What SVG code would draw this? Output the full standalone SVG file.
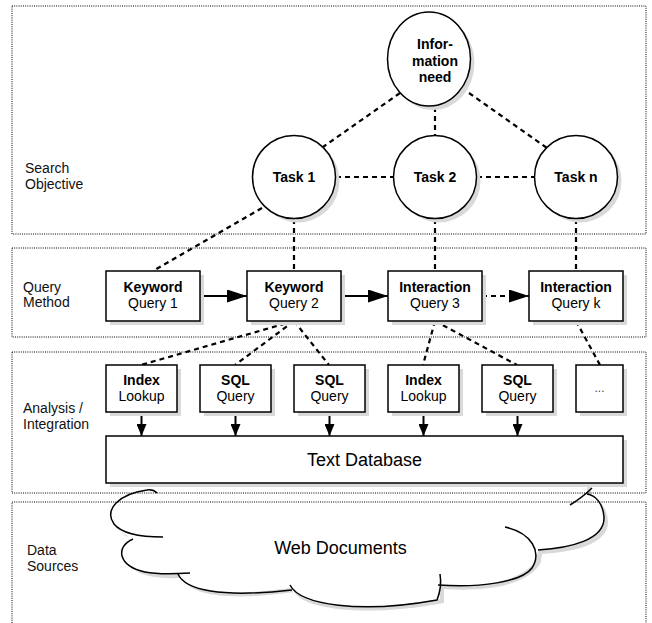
<svg xmlns="http://www.w3.org/2000/svg" width="652" height="623" viewBox="0 0 652 623">
<style>
  .panel { fill: none; stroke: #000; stroke-width: 1; stroke-dasharray: 1 1.2; }
  .lab { font-family: "Liberation Sans", Arial, sans-serif; font-size: 14px; fill: #111; }
  .nt { font-family: "Liberation Sans", Arial, sans-serif; font-size: 14px; fill: #000; text-anchor: middle; }
  .b { font-weight: bold; }
  .node { fill: #fff; stroke: #000; stroke-width: 1.5; }
  .shadow { fill: #d9d9d9; stroke: none; }
  .dash { fill: none; stroke: #000; stroke-width: 2.2; stroke-dasharray: 5 4; }
  .solid { fill: none; stroke: #000; stroke-width: 2; }
  .thin { fill: none; stroke: #000; stroke-width: 1.5; }
</style>
<defs>
  <marker id="bigArrow" markerUnits="userSpaceOnUse" markerWidth="20" markerHeight="13" refX="20" refY="6.5" orient="auto">
    <path d="M0,0 L20,6.5 L0,13 Z" fill="#000"/>
  </marker>
  <marker id="smallArrow" markerUnits="userSpaceOnUse" markerWidth="12" markerHeight="10" refX="12" refY="5" orient="auto">
    <path d="M0,0 L12,5 L0,10 Z" fill="#000"/>
  </marker>
</defs>

<g id="side-labels">
  <text class="lab" x="25" y="173">Search</text>
  <text class="lab" x="25" y="189">Objective</text>
  <text class="lab" x="23" y="292">Query</text>
  <text class="lab" x="23" y="307">Method</text>
  <text class="lab" x="23" y="413">Analysis /</text>
  <text class="lab" x="23" y="429">Integration</text>
  <text class="lab" x="27" y="555">Data</text>
  <text class="lab" x="27" y="571">Sources</text>
</g>

<g id="connectors">
  <line class="dash" x1="400" y1="93" x2="323" y2="147"/>
  <line class="dash" x1="435" y1="107" x2="435" y2="135"/>
  <line class="dash" x1="469" y1="93" x2="547" y2="148"/>
  <line class="dash" x1="336" y1="177" x2="393" y2="177"/>
  <line class="dash" x1="477" y1="177" x2="534" y2="177"/>
  <line class="dash" x1="262" y1="208" x2="153" y2="271"/>
  <line class="dash" x1="294" y1="219" x2="294" y2="271"/>
  <line class="dash" x1="435" y1="219" x2="435" y2="271"/>
  <line class="dash" x1="576" y1="219" x2="576" y2="271"/>
  <line class="dash" x1="294" y1="321" x2="141" y2="365"/>
  <line class="dash" x1="294" y1="321" x2="235" y2="365"/>
  <line class="dash" x1="294" y1="321" x2="329" y2="365"/>
  <line class="dash" x1="435" y1="321" x2="423" y2="365"/>
  <line class="dash" x1="435" y1="321" x2="517" y2="365"/>
  <line class="dash" x1="576" y1="321" x2="600" y2="365"/>
  <line class="solid" x1="200" y1="296" x2="247" y2="296" marker-end="url(#bigArrow)"/>
  <line class="solid" x1="341" y1="296" x2="388" y2="296" marker-end="url(#bigArrow)"/>
  <line class="dash" x1="482" y1="296" x2="529" y2="296" marker-end="url(#bigArrow)"/>
  <line class="solid" x1="141.5" y1="412" x2="141.5" y2="436" marker-end="url(#smallArrow)"/>
  <line class="solid" x1="235.5" y1="412" x2="235.5" y2="436" marker-end="url(#smallArrow)"/>
  <line class="solid" x1="329.5" y1="412" x2="329.5" y2="436" marker-end="url(#smallArrow)"/>
  <line class="solid" x1="423.5" y1="412" x2="423.5" y2="436" marker-end="url(#smallArrow)"/>
  <line class="solid" x1="517.5" y1="412" x2="517.5" y2="436" marker-end="url(#smallArrow)"/>
</g>

<g id="info-need">
  <ellipse class="shadow" cx="433" cy="63" rx="41.5" ry="47"/>
  <ellipse class="node" cx="429" cy="59" rx="41.5" ry="47"/>
  <text class="nt b" x="435" y="48.5">Infor-</text>
  <text class="nt b" x="435" y="65.5">mation</text>
  <text class="nt b" x="435" y="82">need</text>
</g>
<g id="task1">
  <circle class="shadow" cx="298" cy="181" r="41.5"/>
  <circle class="node" cx="294" cy="177" r="41.5"/>
  <text class="nt b" x="294" y="182">Task 1</text>
</g>
<g id="task2">
  <circle class="shadow" cx="439" cy="181" r="41.5"/>
  <circle class="node" cx="435" cy="177" r="41.5"/>
  <text class="nt b" x="435" y="182">Task 2</text>
</g>
<g id="taskn">
  <circle class="shadow" cx="580" cy="181" r="41.5"/>
  <circle class="node" cx="576" cy="177" r="41.5"/>
  <text class="nt b" x="576" y="182">Task n</text>
</g>

<g id="q1">
  <rect class="shadow" x="110" y="275" width="94" height="50"/>
  <rect class="node" x="106" y="271" width="94" height="50"/>
  <text class="nt b" x="153" y="292">Keyword</text>
  <text class="nt" x="153" y="308">Query 1</text>
</g>
<g id="q2">
  <rect class="shadow" x="251" y="275" width="94" height="50"/>
  <rect class="node" x="247" y="271" width="94" height="50"/>
  <text class="nt b" x="294" y="292">Keyword</text>
  <text class="nt" x="294" y="308">Query 2</text>
</g>
<g id="q3">
  <rect class="shadow" x="392" y="275" width="94" height="50"/>
  <rect class="node" x="388" y="271" width="94" height="50"/>
  <text class="nt b" x="435" y="292">Interaction</text>
  <text class="nt" x="435" y="308">Query 3</text>
</g>
<g id="qk">
  <rect class="shadow" x="533" y="275" width="94" height="50"/>
  <rect class="node" x="529" y="271" width="94" height="50"/>
  <text class="nt b" x="576" y="292">Interaction</text>
  <text class="nt" x="576" y="308">Query k</text>
</g>

<g id="a1">
  <rect class="shadow" x="110" y="369" width="71" height="47"/>
  <rect class="node" x="106" y="365" width="71" height="47"/>
  <text class="nt b" x="141.5" y="385">Index</text>
  <text class="nt" x="141.5" y="401">Lookup</text>
</g>
<g id="a2">
  <rect class="shadow" x="204" y="369" width="71" height="47"/>
  <rect class="node" x="200" y="365" width="71" height="47"/>
  <text class="nt b" x="235.5" y="385">SQL</text>
  <text class="nt" x="235.5" y="401">Query</text>
</g>
<g id="a3">
  <rect class="shadow" x="298" y="369" width="71" height="47"/>
  <rect class="node" x="294" y="365" width="71" height="47"/>
  <text class="nt b" x="329.5" y="385">SQL</text>
  <text class="nt" x="329.5" y="401">Query</text>
</g>
<g id="a4">
  <rect class="shadow" x="392" y="369" width="71" height="47"/>
  <rect class="node" x="388" y="365" width="71" height="47"/>
  <text class="nt b" x="423.5" y="385">Index</text>
  <text class="nt" x="423.5" y="401">Lookup</text>
</g>
<g id="a5">
  <rect class="shadow" x="486" y="369" width="71" height="47"/>
  <rect class="node" x="482" y="365" width="71" height="47"/>
  <text class="nt b" x="517.5" y="385">SQL</text>
  <text class="nt" x="517.5" y="401">Query</text>
</g>
<g id="a6">
  <rect class="shadow" x="580" y="369" width="47" height="47"/>
  <rect class="node" x="576" y="365" width="47" height="47"/>
  <text class="nt" x="599.5" y="392" style="font-size:12px;fill:#444">...</text>
</g>

<g id="web-documents">
  <path class="shadow" transform="translate(4,4)" d="M157,480 L157,492 C118,494 104,510 114,524 C118,530 124,534 128,536 C115,545 118,566 145,572 C160,575 170,574 178,574 C185,590 220,598 290,588 C300,605 360,614 440,599 L440,585 C480,588 525,582 537,558 C537,554 538,552 538,550 C570,548 605,540 604,517 C603,503 595,495 587,494 L587,480 Z"/>
  <path d="M157,480 L157,492 C118,494 104,510 114,524 C118,530 124,534 128,536 C115,545 118,566 145,572 C160,575 170,574 178,574 C185,590 220,598 290,588 C300,605 360,614 440,599 L440,585 C480,588 525,582 537,558 C537,554 538,552 538,550 C570,548 605,540 604,517 C603,503 595,495 587,494 L587,480 Z" fill="#fff" stroke="none"/>
  <path class="thin" d="M157,493 Q153,489 147,490 C118,494 104,510 114,524 C122,534 140,537 163,537"/>
  <path class="thin" d="M133,539 C115,547 118,566 145,572 C160,575 175,574 190,573"/>
  <path class="thin" d="M178,574 C185,590 220,598 292,590"/>
  <path class="thin" d="M290,585 C300,605 360,614 437,600 C441,590 441,580 440,574"/>
  <path class="thin" d="M438,585 C480,588 522,582 532,568 C542,552 532,533 505,527"/>
  <path class="thin" d="M538,550 C570,548 605,540 604,517 C603,503 595,495 587,494"/>
  <path class="thin" d="M570,505 Q583,497 592,488"/>
  <text x="340.5" y="554" style="font-family:'Liberation Sans',Arial,sans-serif;font-size:18px;text-anchor:middle;fill:#000">Web Documents</text>
</g>

<g id="text-database">
  <rect class="shadow" x="110" y="440" width="517" height="47"/>
  <rect class="node" x="106" y="436" width="517" height="47"/>
  <text x="364.5" y="466" style="font-family:'Liberation Sans',Arial,sans-serif;font-size:18px;text-anchor:middle;fill:#000">Text Database</text>
</g>

<g id="panels">
  <rect class="panel" x="12" y="6" width="634" height="228"/>
  <rect class="panel" x="12" y="248" width="634" height="89"/>
  <rect class="panel" x="12" y="352" width="634" height="141"/>
  <rect class="panel" x="12" y="502" width="634" height="125"/>
</g>
</svg>
